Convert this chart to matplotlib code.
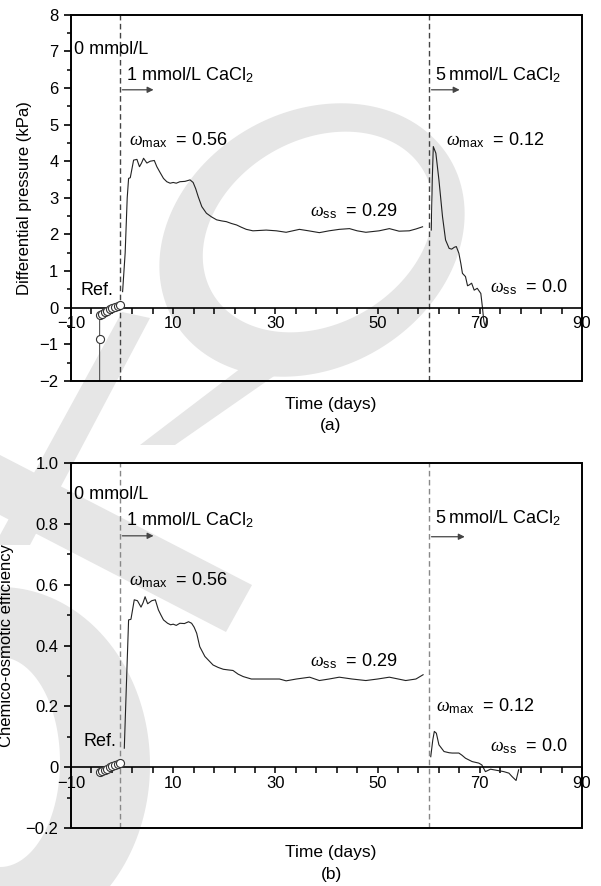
import numpy as np
import matplotlib.pyplot as plt
from matplotlib.patches import Polygon, Rectangle, PathPatch
from matplotlib.path import Path
from matplotlib.ticker import MultipleLocator, FixedLocator

plt.rcParams['font.family'] = ['Liberation Sans', 'DejaVu Sans']
plt.rcParams['mathtext.fontset'] = 'custom'
plt.rcParams['mathtext.rm'] = 'Liberation Sans'
plt.rcParams['mathtext.it'] = 'Liberation Serif:italic'

# ---- data ----
switch_days = [-0.5, 60.0]

# (a) differential pressure (kPa)
ref_days_a = [-4.4, -4.4, -4.4, -3.9, -3.4, -2.9, -2.4, -1.9, -1.4, -0.9, -0.5]
ref_dp = [-2.6, -0.84, -0.2, -0.16, -0.12, -0.08, -0.04, 0.0, 0.03, 0.05, 0.07]

days_1a = [0.1, 0.6, 1.0, 1.27, 1.6, 2.25, 2.9, 3.4, 3.8, 4.2, 4.85, 5.5, 6.3, 6.8,
           7.4, 8.1, 8.75, 9.4, 10.0, 10.6, 11.3, 12.3, 13.3, 13.9, 14.4, 14.9, 15.6,
           16.5, 17.5, 18.5, 19.5, 20.4, 21.4, 22.4, 23.3, 24.3, 25.6, 28.2, 30.2,
           32.1, 34.7, 36.5, 38.6, 40.5, 42.5, 44.5, 46.0, 47.7, 50.3, 52.3, 54.2,
           56.2, 57.5, 58.8]
dp_1a = [0.44, 1.5, 3.0, 3.53, 3.55, 4.03, 4.05, 3.85, 3.95, 4.08, 3.95, 4.0, 4.02, 3.85,
         3.7, 3.53, 3.44, 3.40, 3.42, 3.40, 3.44, 3.45, 3.49, 3.42, 3.25, 3.03, 2.76,
         2.58, 2.48, 2.40, 2.37, 2.35, 2.30, 2.26, 2.20, 2.14, 2.10, 2.12, 2.10,
         2.06, 2.14, 2.10, 2.05, 2.10, 2.14, 2.16, 2.10, 2.06, 2.10, 2.16, 2.09,
         2.10, 2.15, 2.21]

days_2a = [60.5, 60.7, 60.9, 61.4, 62.0, 62.7, 63.3, 64.0, 64.5, 65.0, 65.4, 65.9, 66.3,
           66.6, 67.2, 67.6, 67.9, 68.4, 68.9, 69.5, 70.2, 70.5, 70.8, 71.1, 71.4]
dp_2a = [2.12, 3.5, 4.40, 4.22, 3.49, 2.49, 1.85, 1.62, 1.60, 1.65, 1.67, 1.49, 1.2,
         0.94, 0.85, 0.6, 0.62, 0.67, 0.48, 0.53, 0.39, 0.03, -0.38, -0.52, -0.29]

# (b) chemico-osmotic efficiency
ref_days_b = [-4.4, -3.9, -3.4, -2.9, -2.4, -1.9, -1.4, -0.9, -0.5]
ref_eff = [-0.014, -0.011, -0.008, -0.004, 0.0, 0.004, 0.008, 0.011, 0.014]

days_1b = [0.43, 0.9, 1.27, 1.73, 2.38, 3.0, 3.7, 4.1, 4.5, 5.0, 5.8, 6.5, 7.1, 7.6,
           8.1, 8.9, 9.5, 10.0, 10.6, 11.3, 12.2, 13.0, 13.6, 14.1, 14.6, 15.2, 16.2,
           17.0, 17.8, 18.8, 19.8, 20.7, 21.7, 22.7, 23.7, 25.3, 28.2, 30.8, 32.1,
           34.1, 36.7, 38.6, 40.5, 42.5, 45.0, 47.7, 50.0, 52.3, 55.5, 57.5, 58.9]
eff_1b = [0.063, 0.3, 0.484, 0.486, 0.55, 0.547, 0.526, 0.54, 0.56, 0.537, 0.547, 0.55,
          0.517, 0.50, 0.484, 0.473, 0.468, 0.47, 0.466, 0.473, 0.472, 0.478, 0.473,
          0.46, 0.44, 0.396, 0.364, 0.35, 0.336, 0.328, 0.322, 0.32, 0.318, 0.306,
          0.298, 0.29, 0.29, 0.29, 0.284, 0.29, 0.296, 0.285, 0.29, 0.296, 0.29,
          0.285, 0.29, 0.296, 0.285, 0.29, 0.304]

days_2b = [60.4, 60.8, 61.1, 61.5, 62.0, 63.0, 64.0, 64.6, 65.9, 66.5, 67.2, 68.5, 69.8,
           70.4, 71.1, 72.1, 73.4, 74.7, 75.7, 76.3, 77.1, 77.6]
eff_2b = [0.035, 0.09, 0.118, 0.112, 0.074, 0.052, 0.048, 0.047, 0.047, 0.04, 0.030,
          0.019, 0.014, 0.008, -0.014, -0.006, -0.01, -0.014, -0.019, -0.03, -0.043,
          -0.008]

x_major = [-10, 10, 30, 50, 70, 90]
x_major_labels = ['\u221210', '10', '30', '50', '70', '90']
ya_ticks = list(range(-2, 9))
ya_labels = ['\u22122', '\u22121', '0', '1', '2', '3', '4', '5', '6', '7', '8']
yb_ticks = [-0.2, 0.0, 0.2, 0.4, 0.6, 0.8, 1.0]
yb_labels = ['\u22120.2', '0', '0.2', '0.4', '0.6', '0.8', '1.0']

W, H = 601, 886
fig = plt.figure(figsize=(W / 100, H / 100), dpi=100)

# ---- light grey watermark behind the plots ----
bg = fig.add_axes([0, 0, 1, 1], zorder=-5)
bg.set_xlim(0, W)
bg.set_ylim(H, 0)
bg.axis('off')
wm = '#e6e6e6'


def ellipse_pts(cx, cy, a, b, ang, t):
    ca, sa = np.cos(np.radians(ang)), np.sin(np.radians(ang))
    x = a * np.cos(t)
    y = b * np.sin(t)
    return np.column_stack([cx + x * ca + y * sa, cy - x * sa + y * ca])


t = np.linspace(0, 2 * np.pi, 200)
outer = ellipse_pts(312, 240, 160, 128, 30, t)
inner = ellipse_pts(318, 232, 122, 92, 30, t[::-1])
verts = np.vstack([outer, inner])
codes = ([Path.MOVETO] + [Path.LINETO] * (len(outer) - 1) +
         [Path.MOVETO] + [Path.LINETO] * (len(inner) - 1))
bg.add_patch(PathPatch(Path(verts, codes), fc=wm, ec='none'))

t2 = np.linspace(-np.pi / 2, np.pi / 2, 100)
c_out = ellipse_pts(0, 765, 150, 178, 0, t2)
c_in = ellipse_pts(0, 762, 60, 105, 0, t2[::-1])
bg.add_patch(Polygon(np.vstack([c_out, c_in]), closed=True, fc=wm, ec='none'))

bg.add_patch(Polygon([(0, 455), (252, 585), (226, 632), (0, 515)], fc=wm, ec='none'))
bg.add_patch(Polygon([(122, 312), (150, 318), (30, 545), (0, 545), (0, 535)],
                     fc=wm, ec='none'))
bg.add_patch(Polygon([(262, 352), (300, 358), (175, 445), (140, 445)], fc=wm, ec='none'))


def style_axes(ax, ymin, ymax, yticks, ylabels, yminor, dash_color):
    ax.set_facecolor('none')
    ax.set_xlim(-10, 90)
    ax.set_ylim(ymin, ymax)
    for s in ['top', 'right', 'left']:
        ax.spines[s].set_visible(False)
    ax.spines['bottom'].set_position(('data', 0))
    ax.spines['bottom'].set_linewidth(1.2)
    ax.add_patch(Rectangle((0, 0), 1, 1, transform=ax.transAxes, fill=False,
                           lw=1.4, ec='black', clip_on=False, zorder=5))
    ax.xaxis.set_major_locator(FixedLocator(x_major))
    ax.set_xticklabels(x_major_labels)
    ax.xaxis.set_minor_locator(MultipleLocator(4, offset=2))
    ax.tick_params(axis='x', which='both', direction='out', length=4, width=1.1,
                   pad=2, labelsize=12)
    ax.set_yticks(yticks)
    ax.set_yticklabels(ylabels)
    ax.yaxis.set_minor_locator(MultipleLocator(yminor))
    ax.tick_params(axis='y', which='major', direction='out', length=5, width=1.2,
                   pad=4, labelsize=12)
    ax.tick_params(axis='y', which='minor', direction='out', length=3, width=1.1)
    for d in switch_days:
        ax.axvline(d, color=dash_color, lw=1.0, ls=(0, (4, 2.5)), zorder=1)


txt = dict(fontsize=13, va='center', ha='left')
arr = dict(arrowstyle='-|>', color='#444444', lw=0.9, mutation_scale=9)
w_max = r'$\omega_\mathrm{max}$  = '
w_ss = r'$\omega_\mathrm{ss}$  = '

# ---- panel (a) ----
ax1 = fig.add_axes([71 / W, 1 - 381 / H, 511 / W, 366.3 / H])
style_axes(ax1, -2, 8, ya_ticks, ya_labels, 0.5, '#444444')
ax1.plot(days_1a, dp_1a, color='#222222', lw=0.8)
ax1.plot(days_2a, dp_2a, color='#222222', lw=0.8)
ax1.plot(ref_days_a, ref_dp, color='#555555', lw=0.8, marker='o', ms=5.8,
         mfc='white', mec='#333333', mew=0.8, zorder=4)
ax1.set_ylabel('Differential pressure (kPa)', fontsize=12)
ax1.yaxis.set_label_coords(-0.076, 0.5)

ax1.text(-9.5, 7.06, '0 mmol/L', **txt)
ax1.text(0.8, 6.36, '1 mmol/L CaCl$_2$', **txt)
ax1.text(61.3, 6.36, '5\u2009mmol/L CaCl$_2$', **txt)
ax1.text(1.27, 4.58, w_max + '0.56', **txt)
ax1.text(36.7, 2.65, w_ss + '0.29', **txt)
ax1.text(63.3, 4.58, w_max + '0.12', **txt)
ax1.text(71.9, 0.56, w_ss + '0.0', **txt)
ax1.text(-8.1, 0.48, 'Ref.', **txt)
ax1.annotate('', xy=(6.7, 5.95), xytext=(switch_days[0], 5.95), arrowprops=arr)
ax1.annotate('', xy=(66.6, 5.95), xytext=(switch_days[1], 5.95), arrowprops=arr)

# ---- panel (b) ----
ax2 = fig.add_axes([71 / W, 1 - 828.3 / H, 511 / W, 365.6 / H])
style_axes(ax2, -0.2, 1.0, yb_ticks, yb_labels, 0.1, '#888888')
ax2.plot(days_1b, eff_1b, color='#222222', lw=0.8)
ax2.plot(days_2b, eff_2b, color='#222222', lw=0.8)
ax2.plot(ref_days_b, ref_eff, color='#555555', lw=0.8, marker='o', ms=5.8,
         mfc='white', mec='#333333', mew=0.8, zorder=4)
ax2.set_ylabel('Chemico-osmotic efficiency', fontsize=12)
ax2.yaxis.set_label_coords(-0.112, 0.5)

ax2.text(-9.5, 0.894, '0 mmol/L', **txt)
ax2.text(0.8, 0.812, '1 mmol/L CaCl$_2$', **txt)
ax2.text(61.3, 0.818, '5\u2009mmol/L CaCl$_2$', **txt)
ax2.text(1.27, 0.615, w_max + '0.56', **txt)
ax2.text(36.7, 0.347, w_ss + '0.29', **txt)
ax2.text(61.4, 0.20, w_max + '0.12', **txt)
ax2.text(71.9, 0.068, w_ss + '0.0', **txt)
ax2.text(-7.6, 0.085, 'Ref.', **txt)
ax2.annotate('', xy=(6.7, 0.76), xytext=(switch_days[0], 0.76), arrowprops=arr)
ax2.annotate('', xy=(67.6, 0.757), xytext=(switch_days[1], 0.757), arrowprops=arr)

# x labels and panel tags
fig.text(331 / W, 1 - 405 / H, 'Time (days)', ha='center', va='center', fontsize=12.5)
fig.text(331 / W, 1 - 425 / H, '(a)', ha='center', va='center', fontsize=12.5)
fig.text(331 / W, 1 - 853 / H, 'Time (days)', ha='center', va='center', fontsize=12.5)
fig.text(331 / W, 1 - 874 / H, '(b)', ha='center', va='center', fontsize=12.5)

fig.savefig('out.png', dpi=100)
